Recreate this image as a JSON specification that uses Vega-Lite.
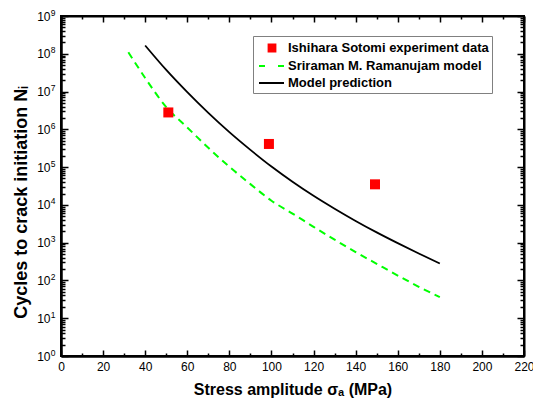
{
  "$schema": "https://vega.github.io/schema/vega-lite/v6.json",
  "width": 463,
  "height": 340,
  "autosize": {"type": "none"},
  "padding": {"left": 61, "top": 16, "right": 9, "bottom": 42},
  "background": "white",
  "datasets": {
    "all": [
      {"series": "Ishihara Sotomi experiment data", "stress": 51.0, "cycles": 2800000},
      {"series": "Ishihara Sotomi experiment data", "stress": 98.8, "cycles": 410000},
      {"series": "Ishihara Sotomi experiment data", "stress": 149.2, "cycles": 35000},
      {"series": "Sriraman M. Ramanujam model", "stress": 32, "cycles": 110000000},
      {"series": "Sriraman M. Ramanujam model", "stress": 40, "cycles": 22900000},
      {"series": "Sriraman M. Ramanujam model", "stress": 50, "cycles": 3890000},
      {"series": "Sriraman M. Ramanujam model", "stress": 60, "cycles": 1120000},
      {"series": "Sriraman M. Ramanujam model", "stress": 70, "cycles": 324000},
      {"series": "Sriraman M. Ramanujam model", "stress": 80, "cycles": 102000},
      {"series": "Sriraman M. Ramanujam model", "stress": 90, "cycles": 35500},
      {"series": "Sriraman M. Ramanujam model", "stress": 100, "cycles": 12900},
      {"series": "Sriraman M. Ramanujam model", "stress": 110, "cycles": 5890},
      {"series": "Sriraman M. Ramanujam model", "stress": 120, "cycles": 2630},
      {"series": "Sriraman M. Ramanujam model", "stress": 130, "cycles": 1200},
      {"series": "Sriraman M. Ramanujam model", "stress": 140, "cycles": 562},
      {"series": "Sriraman M. Ramanujam model", "stress": 150, "cycles": 275},
      {"series": "Sriraman M. Ramanujam model", "stress": 160, "cycles": 135},
      {"series": "Sriraman M. Ramanujam model", "stress": 170, "cycles": 68},
      {"series": "Sriraman M. Ramanujam model", "stress": 180, "cycles": 36},
      {"series": "Model prediction", "stress": 40, "cycles": 166000000},
      {"series": "Model prediction", "stress": 50, "cycles": 37400000},
      {"series": "Model prediction", "stress": 60, "cycles": 9660000},
      {"series": "Model prediction", "stress": 70, "cycles": 2730000},
      {"series": "Model prediction", "stress": 80, "cycles": 843000},
      {"series": "Model prediction", "stress": 90, "cycles": 286000},
      {"series": "Model prediction", "stress": 100, "cycles": 103500},
      {"series": "Model prediction", "stress": 110, "cycles": 41000},
      {"series": "Model prediction", "stress": 120, "cycles": 17400},
      {"series": "Model prediction", "stress": 130, "cycles": 7910},
      {"series": "Model prediction", "stress": 140, "cycles": 3760},
      {"series": "Model prediction", "stress": 150, "cycles": 1870},
      {"series": "Model prediction", "stress": 160, "cycles": 970},
      {"series": "Model prediction", "stress": 170, "cycles": 516},
      {"series": "Model prediction", "stress": 180, "cycles": 281}
    ]
  },
  "data": {"name": "all"},
  "config": {
    "view": {"stroke": "black", "strokeWidth": 2},
    "axis": {
      "grid": false,
      "domainColor": "black",
      "domainWidth": 2,
      "tickColor": "black",
      "tickWidth": 1.5,
      "labelFont": "Liberation Sans",
      "labelFontSize": 12,
      "labelColor": "black",
      "labelFlush": false,
      "labelOverlap": false,
      "titleFont": "Liberation Sans",
      "titleFontWeight": "bold",
      "titleColor": "black"
    }
  },
  "resolve": {"axis": {"x": "independent", "y": "independent"}},
  "layer": [
    {
      "transform": [{"filter": "datum.series === 'Sriraman M. Ramanujam model'"}],
      "mark": {"type": "line", "strokeDash": [7, 5], "strokeWidth": 2, "interpolate": "monotone"},
      "encoding": {
        "x": {
          "field": "stress", "type": "quantitative",
          "scale": {"domain": [0, 220], "nice": false, "zero": false},
          "axis": {
            "orient": "bottom",
            "values": [0, 20, 40, 60, 80, 100, 120, 140, 160, 180, 200, 220],
            "ticks": false,
            "labelPadding": 5,
            "title": "Stress amplitude σₐ (MPa)",
            "titleFontSize": 16,
            "titleBaseline": "alphabetic",
            "titleY": 38
          }
        },
        "y": {
          "field": "cycles", "type": "quantitative",
          "scale": {"type": "log", "domain": [1, 1000000000], "nice": false},
          "axis": {
            "orient": "left",
            "values": [1, 10, 100, 1000, 10000, 100000, 1000000, 10000000, 100000000, 1000000000],
            "labelExpr": "'10'",
            "ticks": false,
            "labelPadding": 11,
            "title": "Cycles to crack initiation Nᵢ",
            "titleFontSize": 18,
            "titleBaseline": "alphabetic",
            "titleX": -35,
            "titleY": 186
          }
        },
        "color": {
          "field": "series", "type": "nominal",
          "scale": {"domain": ["Ishihara Sotomi experiment data", "Sriraman M. Ramanujam model", "Model prediction"], "range": ["#ff0000", "#00ff00", "#000000"]},
          "legend": {
            "title": null,
            "orient": "none",
            "legendX": 192,
            "legendY": 20,
            "zindex": 2,
            "fillColor": "white",
            "strokeColor": "#808080",
            "padding": 3,
            "cornerRadius": 0,
            "symbolSize": 256,
            "labelFont": "Liberation Sans",
            "labelFontSize": 13,
            "labelFontWeight": "bold",
            "labelColor": "black",
            "labelOffset": 14,
            "labelLimit": 400,
            "rowPadding": 1,
            "encode": {
              "symbols": {
                "update": {
                  "shape": {"signal": "datum.value === 'Ishihara Sotomi experiment data' ? 'M0.45,-0.425H1.3V0.425H0.45Z' : 'M-0.75,0H2.375'"},
                  "fill": {"signal": "datum.value === 'Ishihara Sotomi experiment data' ? '#ff0000' : 'transparent'"},
                  "stroke": {"signal": "datum.value === 'Ishihara Sotomi experiment data' ? 'transparent' : (datum.value === 'Model prediction' ? '#000000' : '#00ff00')"},
                  "strokeDash": {"signal": "datum.value === 'Sriraman M. Ramanujam model' ? [6, 13] : []"},
                  "strokeWidth": {"value": 2},
                  "size": {"value": 256},
                  "opacity": {"value": 1}
                }
              }
            }
          }
        }
      }
    },
    {
      "transform": [{"filter": "datum.series === 'Model prediction'"}],
      "mark": {"type": "line", "strokeWidth": 1.8, "interpolate": "monotone"},
      "encoding": {
        "x": {
          "field": "stress", "type": "quantitative",
          "axis": {
            "orient": "bottom",
            "values": [0, 10, 20, 30, 40, 50, 60, 70, 80, 90, 100, 110, 120, 130, 140, 150, 160, 170, 180, 190, 200, 210, 220],
            "labels": false,
            "tickSize": {"condition": {"test": "datum.value % 20 === 0", "value": -6}, "value": -3},
            "title": null
          }
        },
        "y": {
          "field": "cycles", "type": "quantitative",
          "axis": {
            "orient": "left",
            "values": [1, 2, 3, 4, 5, 6, 7, 8, 9, 10, 20, 30, 40, 50, 60, 70, 80, 90, 100, 200, 300, 400, 500, 600, 700, 800, 900, 1000, 2000, 3000, 4000, 5000, 6000, 7000, 8000, 9000, 10000, 20000, 30000, 40000, 50000, 60000, 70000, 80000, 90000, 100000, 200000, 300000, 400000, 500000, 600000, 700000, 800000, 900000, 1000000, 2000000, 3000000, 4000000, 5000000, 6000000, 7000000, 8000000, 9000000, 10000000, 20000000, 30000000, 40000000, 50000000, 60000000, 70000000, 80000000, 90000000, 100000000, 200000000, 300000000, 400000000, 500000000, 600000000, 700000000, 800000000, 900000000, 1000000000],
            "labels": false,
            "tickSize": {"condition": {"test": "abs(log(datum.value)/LN10 - round(log(datum.value)/LN10)) < 0.001", "value": -7}, "value": -4},
            "title": null
          }
        },
        "color": {"field": "series", "type": "nominal"}
      }
    },
    {
      "transform": [{"filter": "datum.series === 'Ishihara Sotomi experiment data'"}],
      "mark": {"type": "point", "shape": "square", "filled": true, "opacity": 1},
      "encoding": {
        "x": {
          "field": "stress", "type": "quantitative",
          "axis": {
            "orient": "top",
            "values": [0, 10, 20, 30, 40, 50, 60, 70, 80, 90, 100, 110, 120, 130, 140, 150, 160, 170, 180, 190, 200, 210, 220],
            "labels": false,
            "tickSize": {"condition": {"test": "datum.value % 20 === 0", "value": -6}, "value": -3},
            "title": null
          }
        },
        "y": {
          "field": "cycles", "type": "quantitative",
          "axis": {
            "orient": "right",
            "values": [1, 2, 3, 4, 5, 6, 7, 8, 9, 10, 20, 30, 40, 50, 60, 70, 80, 90, 100, 200, 300, 400, 500, 600, 700, 800, 900, 1000, 2000, 3000, 4000, 5000, 6000, 7000, 8000, 9000, 10000, 20000, 30000, 40000, 50000, 60000, 70000, 80000, 90000, 100000, 200000, 300000, 400000, 500000, 600000, 700000, 800000, 900000, 1000000, 2000000, 3000000, 4000000, 5000000, 6000000, 7000000, 8000000, 9000000, 10000000, 20000000, 30000000, 40000000, 50000000, 60000000, 70000000, 80000000, 90000000, 100000000, 200000000, 300000000, 400000000, 500000000, 600000000, 700000000, 800000000, 900000000, 1000000000],
            "labels": false,
            "tickSize": {"condition": {"test": "abs(log(datum.value)/LN10 - round(log(datum.value)/LN10)) < 0.001", "value": -7}, "value": -4},
            "title": null
          }
        },
        "color": {"field": "series", "type": "nominal"},
        "size": {
          "field": "series", "type": "ordinal",
          "scale": {"domain": ["Ishihara Sotomi experiment data"], "range": [100, 100]},
          "legend": {
            "title": null,
            "orient": "none",
            "legendX": 192,
            "legendY": 20,
            "zindex": 1,
            "padding": 0,
            "symbolSize": 100,
            "labelExpr": "''",
            "labelFontSize": 1,
            "encode": {
              "symbols": {
                "update": {
                  "shape": {"value": "M0,0H48V11.4H0Z"},
                  "fill": {"value": "#000000"},
                  "stroke": {"value": "transparent"},
                  "strokeWidth": {"value": 0},
                  "size": {"value": 100},
                  "opacity": {"value": 1},
                  "fillOpacity": {"value": 1}
                }
              }
            }
          }
        }
      }
    },
    {
      "transform": [{"filter": "datum.series === 'Model prediction'"}],
      "mark": {"type": "point", "filled": true, "opacity": 0},
      "encoding": {
        "x": {"field": "stress", "type": "quantitative", "axis": null},
        "y": {
          "field": "cycles", "type": "quantitative",
          "axis": {
            "orient": "left",
            "values": [1, 10, 100, 1000, 10000, 100000, 1000000, 10000000, 100000000, 1000000000],
            "labelExpr": "'' + round(log(datum.value)/LN10)",
            "labelFontSize": 8.5,
            "labelOffset": -4,
            "labelPadding": 6,
            "ticks": false,
            "domain": false,
            "title": null
          }
        }
      }
    }
  ]
}
